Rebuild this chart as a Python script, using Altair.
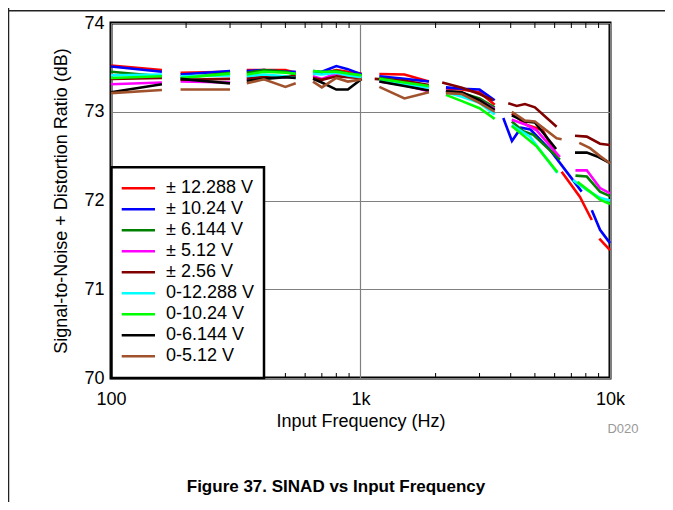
import altair as alt
import pandas as pd

SERIES = ["± 12.288 V", "± 10.24 V", "± 6.144 V", "± 5.12 V", "± 2.56 V",
          "0-12.288 V", "0-10.24 V", "0-6.144 V", "0-5.12 V"]
COLORS = ["#FF0000", "#0000FF", "#008000", "#FF00FF", "#800000",
          "#00FFFF", "#00FF00", "#000000", "#A0522D"]

F1 = [100, 160]
F2 = [190, 300]
F3 = [350, 410, 500, 550]
F4 = [645, 700, 800, 890, 1010]
F5 = [1190, 1500, 1880]
F6 = [2200, 2550, 3000, 3450]

RED_F = [F1, F2, F3, F4, F5, F6, [4040, 4650, 5380, 6150], [6400, 7580, 8070, 8455], [9060, 10000]]
RED_V = [[73.52, 73.47], [73.44, 73.45], [73.47, 73.47, 73.47, 73.44], [73.44, 73.43, 73.47, 73.45, 73.43],
         [73.425, 73.42, 73.34], [73.26, 73.25, 73.22, 73.08], [72.98, 72.85, 72.79, 72.49],
         [72.325, 72.04, 71.89, 71.78], [71.57, 71.44]]

BLUE_F = [F1, F2, F3, F4, F5, F6, [3735, 4046, 4400, 4800, 5750, 7700], [8455, 9120, 10000]]
BLUE_V = [[73.51, 73.45], [73.42, 73.46], [73.46, 73.47, 73.45, 73.45], [73.46, 73.45, 73.515, 73.48, 73.42],
          [73.40, 73.37, 73.34], [73.275, 73.26, 73.25, 73.13], [72.93, 72.67, 72.82, 72.80, 72.57, 72.10],
          [71.89, 71.67, 71.52]]

GREEN_F = [F1, F2, F3, F4, F5, F6, [4040, 4490, 4930, 6300], [7270, 8070, 9120, 10000]]
GREEN_V = [[73.45, 73.40], [73.38, 73.44], [73.44, 73.47, 73.45, 73.42], [73.45, 73.44, 73.46, 73.43, 73.41],
           [73.38, 73.34, 73.29], [73.24, 73.21, 73.15, 73.05], [72.89, 72.78, 72.74, 72.46],
           [72.28, 72.27, 72.10, 72.05]]

MAGENTA_F = [F1, F2, F3, F4, F5, F6, [4040, 4640, 5080, 6300], [7270, 8070, 9120, 10000]]
MAGENTA_V = [[73.31, 73.33], [73.34, 73.33], [73.36, 73.38, 73.39, 73.39], [73.40, 73.37, 73.43, 73.42, 73.40],
             [73.34, 73.30, 73.23], [73.24, 73.20, 73.13, 73.03], [72.91, 72.85, 72.79, 72.49],
             [72.34, 72.34, 72.14, 72.08]]

DARKRED_F = [F1, F2, F3, F4, [1140, 1500, 1880], [2125, 2550, 3000, 3400],
             [3910, 4230, 4560, 5000, 6110], [7240, 8070, 9120, 10000]]
DARKRED_V = [[73.37, 73.38], [73.36, 73.37], [73.38, 73.39, 73.40, 73.40], [73.38, 73.36, 73.40, 73.39, 73.38],
             [73.37, 73.35, 73.30], [73.33, 73.27, 73.20, 73.13], [73.095, 73.065, 73.087, 73.05, 72.83],
             [72.73, 72.72, 72.64, 72.625]]

CYAN_F = [F1, F2, F3, F4, F5, F6, [4040, 4780, 6150], [7100, 8070, 9120, 10000]]
CYAN_V = [[73.41, 73.42], [73.40, 73.41], [73.40, 73.42, 73.40, 73.38], [73.43, 73.42, 73.44, 73.41, 73.39],
          [73.36, 73.31, 73.27], [73.22, 73.17, 73.10, 72.97], [72.85, 72.72, 72.31],
          [72.23, 72.12, 72.03, 72.00]]

LIME_F = [F1, F2, F3, F4, F5, F6, [4040, 5080, 6150], [7400, 8320, 9120, 10000]]
LIME_V = [[73.38, 73.40], [73.38, 73.43], [73.42, 73.45, 73.44, 73.43], [73.46, 73.45, 73.45, 73.43, 73.41],
          [73.37, 73.33, 73.29], [73.19, 73.12, 73.04, 72.92], [72.84, 72.61, 72.32],
          [72.21, 72.10, 72.01, 71.96]]

BLACK_F = [F1, F2, F3, F4, F5, F6, [4040, 4560, 5000, 6080], [7240, 8070, 9000, 10000]]
BLACK_V = [[73.22, 73.31], [73.37, 73.32], [73.35, 73.37, 73.39, 73.38], [73.37, 73.33, 73.25, 73.25, 73.37],
           [73.34, 73.29, 73.24], [73.23, 73.22, 73.13, 73.02], [72.96, 72.89, 72.88, 72.58],
           [72.54, 72.54, 72.49, 72.42]]

BROWN_F = [F1, F2, F3, F4, F5, F6, [4040, 4560, 5000, 6110, 6400], [7530, 8320, 9120, 10000]]
BROWN_V = [[73.21, 73.245], [73.25, 73.25], [73.32, 73.365, 73.28, 73.32], [73.34, 73.275, 73.38, 73.34, 73.365],
           [73.28, 73.15, 73.22], [73.21, 73.20, 73.10, 73.00], [73.00, 72.90, 72.89, 72.70, 72.69],
           [72.65, 72.59, 72.50, 72.42]]

MINOR_TICKS = [200, 300, 400, 500, 600, 700, 800, 900,
               2000, 3000, 4000, 5000, 6000, 7000, 8000, 9000]
X_TICKS = [100, 1000, 10000]
Y_TICKS = [70, 71, 72, 73, 74]

ALL_F = [RED_F, BLUE_F, GREEN_F, MAGENTA_F, DARKRED_F, CYAN_F, LIME_F, BLACK_F, BROWN_F]
ALL_V = [RED_V, BLUE_V, GREEN_V, MAGENTA_V, DARKRED_V, CYAN_V, LIME_V, BLACK_V, BROWN_V]

rows = []
for i, name in enumerate(SERIES):
    for j, (fs, vs) in enumerate(zip(ALL_F[i], ALL_V[i])):
        for k, (f, v) in enumerate(zip(fs, vs)):
            rows.append({"series": name, "seg": f"{i}-{j}", "freq": f, "sinad": v, "ord": k})
df = pd.DataFrame(rows)

FONT = "Liberation Sans"

xscale = alt.Scale(type="log", domain=[100, 10000], nice=False)
yscale = alt.Scale(domain=[70, 74], nice=False)
xaxis = alt.Axis(values=X_TICKS, labelExpr="datum.value >= 1000 ? (datum.value/1000) + 'k' : datum.value",
                 grid=True, gridColor="#808080", gridWidth=1.2, domain=False, ticks=False,
                 labelFlush=False, labelFontSize=18, labelPadding=12, labelColor="black",
                 titleFontSize=18, titleFontWeight="normal", titlePadding=4, titleColor="black")
yaxis = alt.Axis(values=Y_TICKS, format="d", grid=True, gridColor="#808080", gridWidth=1.2,
                 domain=False, ticks=False, labelFontSize=18, labelPadding=7, labelColor="black",
                 titleFontSize=18, titleFontWeight="normal", titlePadding=13, titleColor="black")

X = alt.X("freq:Q", scale=xscale, axis=xaxis, title="Input Frequency (Hz)")
Y = alt.Y("sinad:Q", scale=yscale, axis=yaxis, title="Signal-to-Noise + Distortion Ratio (dB)")

lines = alt.Chart(df).mark_line(strokeWidth=2.6).encode(
    x=X, y=Y,
    color=alt.Color("series:N", sort=SERIES,
                    scale=alt.Scale(domain=SERIES, range=COLORS),
                    legend=alt.Legend(orient="none", legendX=0.5, legendY=144.3, padding=12,
                                      title=None, symbolType="M-1.96,0H4.09", symbolSize=121,
                                      symbolStrokeWidth=2.5, labelFontSize=18, labelOffset=24.5,
                                      rowPadding=3, labelLimit=300, labelColor="black",
                                      labelFont=FONT)),
    detail="seg:N",
    order="ord:Q",
)

minor_df = pd.DataFrame({"freq": MINOR_TICKS})
ticks_top = alt.Chart(minor_df).mark_rule(color="black", strokeWidth=1).encode(
    x=X, y=alt.value(0), y2=alt.value(5))
ticks_bot = alt.Chart(minor_df).mark_rule(color="black", strokeWidth=1).encode(
    x=X, y=alt.value(350), y2=alt.value(355))

one = pd.DataFrame({"a": [0]})
legend_box = alt.Chart(one).mark_rect(fill="white", stroke="black", strokeWidth=2.5).encode(
    x=alt.value(0.5), x2=alt.value(153), y=alt.value(144.3), y2=alt.value(355))

frame_v = alt.Chart(one).mark_rule(color="#222222", strokeWidth=1.5).encode(
    x=alt.value(-102.5), y=alt.value(-15), y2=alt.value(479))
frame_h = alt.Chart(one).mark_rule(color="#222222", strokeWidth=1.5).encode(
    x=alt.value(-103), x2=alt.value(554), y=alt.value(-12.3))

d020 = alt.Chart(one).mark_text(fontSize=13, color="#999999", font=FONT).encode(
    x=alt.value(512), y=alt.value(406), text=alt.value("D020"))
caption = alt.Chart(one).mark_text(fontSize=17, fontWeight="bold", color="black", font=FONT).encode(
    x=alt.value(225), y=alt.value(464), text=alt.value("Figure 37. SINAD vs Input Frequency"))

chart = alt.layer(
    ticks_top, ticks_bot, lines, legend_box, frame_v, frame_h, d020, caption
).properties(
    width=499, height=355,
    padding={"left": 103, "top": 15, "right": 55, "bottom": 124},
    autosize=alt.AutoSizeParams(type="none"),
).configure(font=FONT).configure_view(stroke="black", strokeWidth=3)

chart.save("out.html", embed_options={"renderer": "svg", "actions": False})
